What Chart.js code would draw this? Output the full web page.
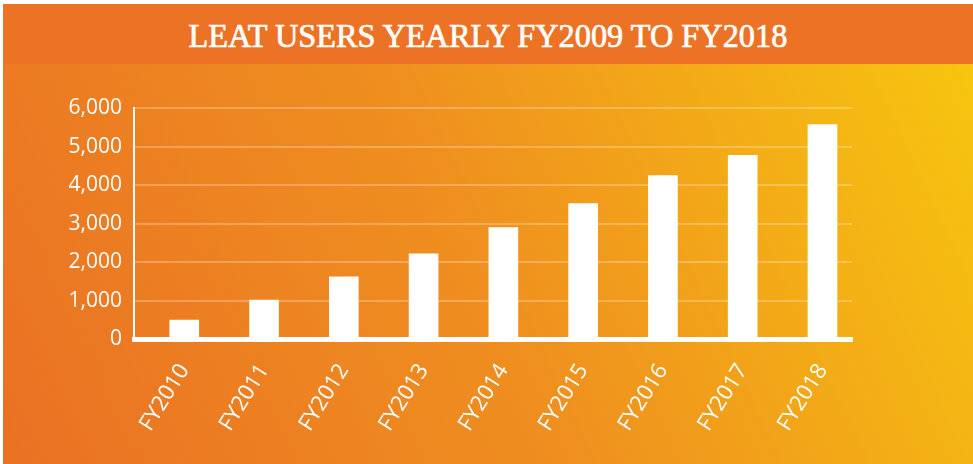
<!DOCTYPE html>
<html>
<head>
<meta charset="utf-8">
<script src="https://cdn.jsdelivr.net/npm/chart.js@4/dist/chart.umd.min.js"></script>
<style>
  html, body { margin: 0; padding: 0; background: #fff; }
  #wrap { position: relative; width: 973px; height: 464px; overflow: hidden; }
  #band {
    position: absolute; left: 3px; top: 4px; width: 970px; height: 60px;
    background: #ec7325; color: #fff; text-align: center;
    font: 34px "Liberation Serif", serif; line-height: 64px; white-space: nowrap;
    -webkit-text-stroke: 0.7px #fff;
  }
  #band span { display: inline-block; transform-origin: center; }
  #panel {
    position: absolute; left: 3px; top: 64px; width: 970px; height: 400px;
    background: linear-gradient(65deg, #ea7024 0%, #ef901f 50%, #f7c50f 100%);
  }
  #chart { position: absolute; left: 0; top: 64px; }
</style>
</head>
<body>
<div id="wrap">
  <div id="band"><span id="title">LEAT USERS YEARLY FY2009 TO FY2018</span></div>
  <div id="panel"></div>
  <canvas id="chart" width="973" height="400"></canvas>
</div>
<script>
const categories = ["FY2010", "FY2011", "FY2012", "FY2013", "FY2014", "FY2015", "FY2016", "FY2017", "FY2018"];
const users = [500, 1020, 1620, 2220, 2900, 3520, 4250, 4770, 5570];
const yTicks = [0, 1000, 2000, 3000, 4000, 5000, 6000];

// squeeze the serif title to the width of the original
const t = document.getElementById("title");
t.style.transform = "scaleX(" + (599 / t.getBoundingClientRect().width) + ")";

new Chart(document.getElementById("chart").getContext("2d"), {
  type: "bar",
  data: {
    datasets: [
      {
        label: "users",
        data: users.map((v, i) => ({ x: i, y: v })),
        backgroundColor: "#ffffff",
        borderWidth: 0,
        barThickness: 29,
      },
    ],
  },
  options: {
    responsive: false,
    animation: false,
    devicePixelRatio: 1,
    layout: { padding: { top: 44, right: 121, left: 0, bottom: 0 } },
    plugins: {
      legend: { display: false },
      tooltip: { enabled: false },
    },
    scales: {
      x: {
        type: "linear",
        offset: false,
        min: -0.63,
        max: 8.37,
        afterBuildTicks: (scale) => {
          scale.ticks = categories.map((c, i) => ({ value: i }));
        },
        afterFit: (scale) => { scale.height = 124.7; },
        grid: { display: false, offset: false },
        border: { color: "#ffffff", width: 5 },
        ticks: {
          autoSkip: false,
          minRotation: 58,
          maxRotation: 58,
          padding: 12,
          color: "#ffffff",
          font: { family: "'Open Sans', sans-serif", size: 22 },
          callback: (v) => categories[v],
        },
      },
      y: {
        min: yTicks[0],
        max: yTicks[yTicks.length - 1],
        afterBuildTicks: (scale) => {
          scale.ticks = yTicks.map((v) => ({ value: v }));
        },
        afterFit: (scale) => { scale.width = 134; },
        grid: { color: "rgba(255,255,255,0.25)", lineWidth: 2, drawTicks: false },
        border: { color: "#ffffff", width: 2 },
        ticks: {
          padding: 12,
          color: "#ffffff",
          font: { family: "'Open Sans', sans-serif", size: 21 },
          callback: (v) => v.toLocaleString("en-US"),
        },
      },
    },
  },
});
</script>
</body>
</html>
